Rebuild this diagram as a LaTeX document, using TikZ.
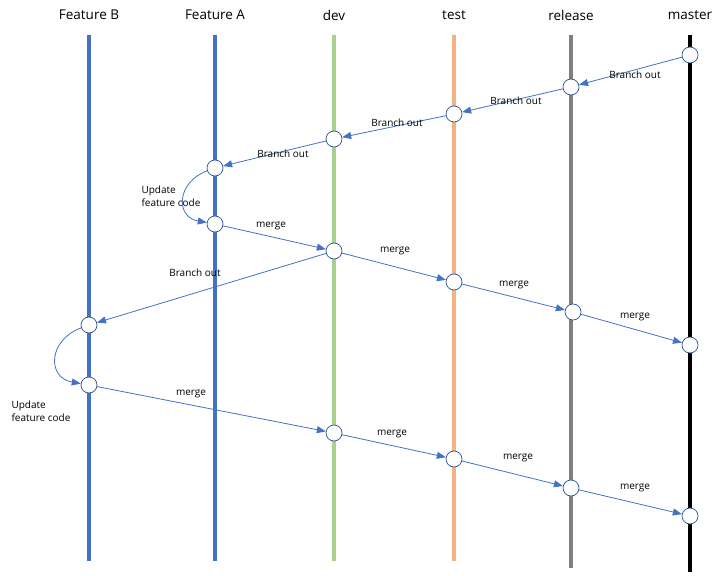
\documentclass[tikz,border=0pt]{standalone}
\usepackage{fontspec}
\setmainfont{Open Sans}
\usepackage{xcolor}
\usepackage{tikz}
\usetikzlibrary{arrows.meta}
\definecolor{featblue}{RGB}{68,114,196}
\definecolor{devgreen}{RGB}{169,209,142}
\definecolor{testorange}{RGB}{244,177,131}
\definecolor{relgray}{RGB}{128,128,128}
\definecolor{ringblue}{RGB}{47,82,143}

\tikzset{
  lane/.style={line width=4pt},
  commit/.style={circle, draw=ringblue, fill=white, line width=0.7pt, minimum size=16pt, inner sep=0pt},
  flow/.style={featblue, line width=0.8pt, -{Triangle[length=9pt,width=7pt]}},
  lanetitle/.style={font=\fontsize{13.5}{16}\selectfont},
  lbl/.style={font=\fontsize{10}{13}\selectfont}
}

\begin{document}
\begin{tikzpicture}[x=1pt,y=-1pt]
						\useasboundingbox (0,0) rectangle (722,575);
						
						% lanes
						\draw[lane, featblue] (89,35) -- (89,561);
						\draw[lane, featblue] (215,35) -- (215,561);
						\draw[lane, devgreen] (334,35) -- (334,561);
						\draw[lane, testorange] (454,35) -- (454,561);
						\draw[lane, relgray] (571,35) -- (571,568);
						\draw[lane, black] (690,35) -- (690,572);
						
						\node[lanetitle] at (89,15) {Feature B};
						\node[lanetitle] at (215,15) {Feature A};
						\node[lanetitle] at (334,15) {dev};
						\node[lanetitle] at (454,15) {test};
						\node[lanetitle] at (571,15) {release};
						\node[lanetitle] at (690,15) {master};
						
						% commits
						\node[commit] (M1) at (690,55) {};
						\node[commit] (R1) at (571,87) {};
						\node[commit] (T1) at (454,114) {};
						\node[commit] (D1) at (334,139) {};
						\node[commit] (A1) at (215,168) {};
						\node[commit] (A2) at (215,224) {};
						\node[commit] (D2) at (334,251) {};
						\node[commit] (T2) at (454,282) {};
						\node[commit] (R2) at (573,312) {};
						\node[commit] (M2) at (690,345) {};
						\node[commit] (B1) at (89,325) {};
						\node[commit] (B2) at (89,385) {};
						\node[commit] (D3) at (334,433) {};
						\node[commit] (T3) at (454,459) {};
						\node[commit] (R3) at (571,488) {};
						\node[commit] (M3) at (690,516) {};
						
						% branch out
						\draw[flow] (M1) -- (R1);
						\draw[flow] (R1) -- (T1);
						\draw[flow] (T1) -- (D1);
						\draw[flow] (D1) -- (A1);
						\draw[flow] (D2) -- (B1);
						
						\node[lbl] at (635,75) {Branch out};
						\node[lbl] at (516,101) {Branch out};
						\node[lbl] at (397,123) {Branch out};
						\node[lbl] at (283,154) {Branch out};
						\node[lbl] at (195,273) {Branch out};
						
						% updates
						\draw[flow] (A1) to[out=200, in=170, looseness=1.6] (A2);
						\draw[flow] (B1) to[out=200, in=170, looseness=1.6] (B2);
						\node[lbl, align=left, anchor=west] at (138,196) {Update\\feature code};
						\node[lbl, align=left, anchor=west] at (8,411) {Update\\feature code};
						
						% merges
						\draw[flow] (A2) -- (D2);
						\draw[flow] (D2) -- (T2);
						\draw[flow] (T2) -- (R2);
						\draw[flow] (R2) -- (M2);
						\draw[flow] (B2) -- (D3);
						\draw[flow] (D3) -- (T3);
						\draw[flow] (T3) -- (R3);
						\draw[flow] (R3) -- (M3);
						
						\node[lbl] at (271,226) {merge};
						\node[lbl] at (395,251) {merge};
						\node[lbl] at (514,285) {merge};
						\node[lbl] at (635,317) {merge};
						\node[lbl] at (191,394) {merge};
						\node[lbl] at (392,434) {merge};
						\node[lbl] at (518,458) {merge};
						\node[lbl] at (635,488) {merge};
					\end{tikzpicture}
\end{document}
